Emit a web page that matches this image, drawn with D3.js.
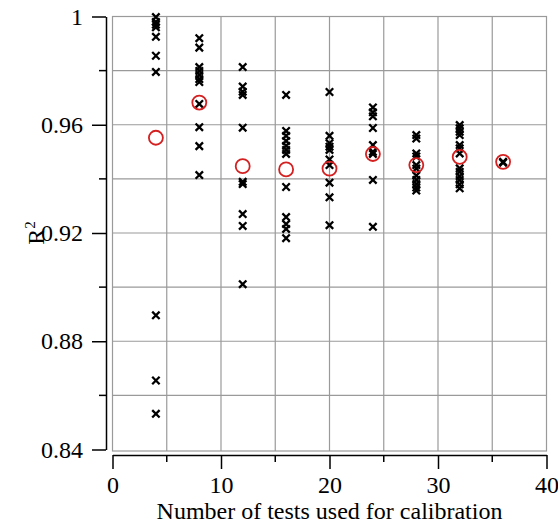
<!DOCTYPE html>
<html>
<head>
<meta charset="utf-8">
<script src="https://cdn.jsdelivr.net/npm/d3@7"></script>
<style>
  html, body { margin: 0; padding: 0; background: #fff; }
  svg { display: block; }
  text { font-family: "Liberation Serif", "Times New Roman", serif; fill: #000; }
</style>
</head>
<body>
<svg id="chart" width="558" height="527"></svg>
<script>
// Number of calibration tests used in each group
const testCounts = [4, 8, 12, 16, 20, 24, 28, 32, 36];

// R² of each individual calibration run, per group
const r2Tests4  = [0.9998, 0.998, 0.997, 0.996, 0.9925, 0.9855, 0.9795, 0.8896, 0.8655, 0.8532];
const r2Tests8  = [0.9920, 0.9885, 0.9813, 0.9799, 0.9784, 0.9769, 0.9758, 0.9677, 0.9591, 0.9521, 0.9414];
const r2Tests12 = [0.9813, 0.9741, 0.9722, 0.9710, 0.9589, 0.9389, 0.9381, 0.9270, 0.9226, 0.9011];
const r2Tests16 = [0.9710, 0.9577, 0.9559, 0.9540, 0.9522, 0.9507, 0.9492, 0.9370, 0.9259, 0.9233, 0.9215, 0.9181];
const r2Tests20 = [0.9721, 0.9559, 0.9532, 0.9519, 0.9507, 0.9472, 0.9451, 0.9386, 0.9332, 0.9229];
const r2Tests24 = [0.9664, 0.9646, 0.9631, 0.9588, 0.9525, 0.9500, 0.9492, 0.9396, 0.9223];
const r2Tests28 = [0.9562, 0.9549, 0.9494, 0.9483, 0.9451, 0.9438, 0.9412, 0.9396, 0.9381, 0.9368, 0.9357];
const r2Tests32 = [0.9599, 0.9587, 0.9574, 0.9562, 0.9525, 0.9513, 0.9494, 0.9439, 0.9426, 0.9410, 0.9396, 0.9380, 0.9365];
const r2Tests36 = [0.9463, 0.9460];

// Mean R² per group (red circles)
const r2Means = [0.9552, 0.9682, 0.9447, 0.9435, 0.9438, 0.9492, 0.9451, 0.9481, 0.9463];

// Tick values
const xTicksMajor = [0, 10, 20, 30, 40];
const xTicksMinor = [5, 15, 25, 35];
const yTicksMajor = [0.84, 0.88, 0.92, 0.96, 1];
const yTicksMinor = [0.86, 0.90, 0.94, 0.98];
const yTickLabels = ["0.84", "0.88", "0.92", "0.96", "1"];

const runGroups = [r2Tests4, r2Tests8, r2Tests12, r2Tests16, r2Tests20,
                   r2Tests24, r2Tests28, r2Tests32, r2Tests36];
const runPoints = testCounts.flatMap((n, i) => runGroups[i].map(v => ({ n, v })));
const meanPoints = testCounts.map((n, i) => ({ n, v: r2Means[i] }));

const serif = "'Liberation Serif', 'Times New Roman', serif";
const svg = d3.select("#chart");

const plot = { left: 112.5, right: 546.5, top: 16.5, bottom: 449.5 };

const x = d3.scaleLinear().domain([0, 40]).range([plot.left, plot.right]);
const y = d3.scaleLinear().domain([0.84, 1]).range([plot.bottom, plot.top]);

const gridColor = "#9a9a9a";

// Grid
const grid = svg.append("g");
grid.selectAll("line.vx")
  .data(d3.range(5, 40, 5))
  .join("line")
  .attr("x1", d => x(d)).attr("x2", d => x(d))
  .attr("y1", plot.top).attr("y2", plot.bottom + 1.5)
  .attr("stroke", gridColor).attr("stroke-width", 1.2);
grid.selectAll("line.hy")
  .data([0.86, 0.88, 0.90, 0.92, 0.94, 0.96, 0.98])
  .join("line")
  .attr("x1", plot.left).attr("x2", plot.right)
  .attr("y1", d => y(d)).attr("y2", d => y(d))
  .attr("stroke", gridColor).attr("stroke-width", 1.2);

// Plot frame
svg.append("rect")
  .attr("x", plot.left).attr("y", plot.top)
  .attr("width", plot.right - plot.left)
  .attr("height", plot.bottom + 1.5 - plot.top)
  .attr("fill", "none").attr("stroke", gridColor).attr("stroke-width", 1.2);

// Y axis, detached to the left of the frame
const yAxisX = 106;
const yAxis = svg.append("g").attr("transform", `translate(${yAxisX},0)`);
yAxis.call(d3.axisLeft(y).tickValues(yTicksMajor).tickSize(14)
  .tickFormat((d, i) => yTickLabels[i]).tickPadding(9).tickSizeOuter(0));
yAxis.attr("font-family", serif).attr("font-size", 24);
yAxis.select(".domain").attr("stroke", "#000").attr("stroke-width", 1.5);
yAxis.selectAll(".tick line").attr("stroke", "#000").attr("stroke-width", 1.5);
yAxis.selectAll(".tick text").attr("font-family", serif).attr("font-size", 24);
yAxis.selectAll("line.minor")
  .data(yTicksMinor).join("line").attr("class", "minor")
  .attr("x1", 0).attr("x2", -7)
  .attr("y1", d => y(d)).attr("y2", d => y(d))
  .attr("stroke", "#000").attr("stroke-width", 1.5);

// X axis, detached below the frame
const xAxisY = 455;
const xAxis = svg.append("g").attr("transform", `translate(0,${xAxisY})`);
xAxis.call(d3.axisBottom(x).tickValues(xTicksMajor).tickSize(14)
  .tickFormat(d3.format("d")).tickPadding(7).tickSizeOuter(0));
xAxis.attr("font-family", serif).attr("font-size", 24);
xAxis.select(".domain").attr("stroke", "#000").attr("stroke-width", 1.5);
xAxis.selectAll(".tick line").attr("stroke", "#000").attr("stroke-width", 1.5);
xAxis.selectAll(".tick text").attr("font-family", serif).attr("font-size", 24);
xAxis.selectAll("line.minor")
  .data(xTicksMinor).join("line").attr("class", "minor")
  .attr("x1", d => x(d)).attr("x2", d => x(d))
  .attr("y1", 0).attr("y2", 7)
  .attr("stroke", "#000").attr("stroke-width", 1.5);

// Axis titles
svg.append("text")
  .attr("x", (plot.left + plot.right) / 2)
  .attr("y", 519)
  .attr("text-anchor", "middle")
  .attr("font-family", serif)
  .attr("font-size", 24)
  .text("Number of tests used for calibration");

const yTitle = svg.append("text")
  .attr("transform", `translate(44,${(plot.top + plot.bottom) / 2}) rotate(-90)`)
  .attr("text-anchor", "middle")
  .attr("font-family", serif)
  .attr("font-size", 24);
yTitle.append("tspan").text("R");
yTitle.append("tspan").attr("dy", -9).attr("font-size", 15).text("2");

// Individual runs (crosses)
const cross = "M-3.7,-3.7L3.7,3.7M-3.7,3.7L3.7,-3.7";
svg.append("g").selectAll("path")
  .data(runPoints)
  .join("path")
  .attr("d", cross)
  .attr("transform", d => `translate(${x(d.n)},${y(d.v)})`)
  .attr("fill", "none").attr("stroke", "#000").attr("stroke-width", 2.3);

// Group means (red circles)
svg.append("g").selectAll("circle")
  .data(meanPoints)
  .join("circle")
  .attr("cx", d => x(d.n)).attr("cy", d => y(d.v))
  .attr("r", 7)
  .attr("fill", "none").attr("stroke", "#d42020").attr("stroke-width", 1.8);
</script>
</body>
</html>
